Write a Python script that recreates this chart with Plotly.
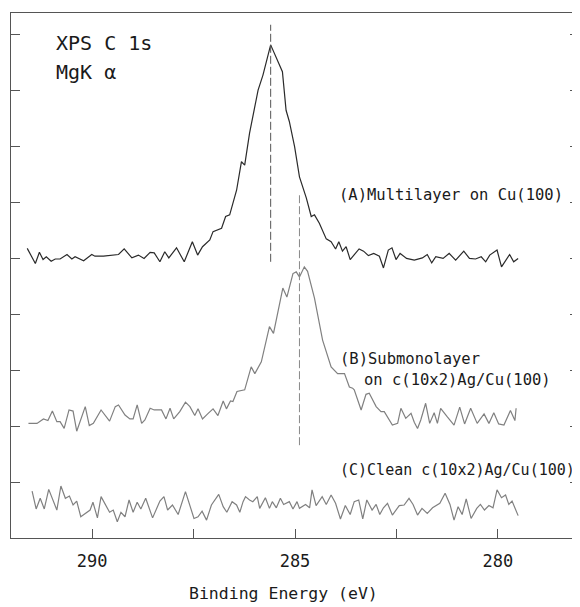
import plotly.graph_objects as go

# ---- Data (binding energy in eV, intensity in tick units) ----
ENERGY_A = [291.60, 291.40, 291.30, 291.21, 291.13, 291.01, 290.91, 290.79, 290.62, 290.50,
            290.42, 290.21, 290.01, 289.93, 289.72, 289.35, 289.21, 289.02, 288.86, 288.72,
            288.57, 288.47, 288.33, 288.21, 288.11, 287.92, 287.73, 287.53, 287.40, 287.28,
            287.10, 287.02, 286.81, 286.71, 286.61, 286.53, 286.44, 286.32, 286.24, 286.12,
            285.91, 285.79, 285.60, 285.31, 285.22, 285.14, 285.01, 284.89, 284.72, 284.60,
            284.52, 284.40, 284.23, 284.11, 284.00, 283.92, 283.83, 283.74, 283.64, 283.42,
            283.31, 283.19, 283.06, 282.92, 282.82, 282.70, 282.61, 282.51, 282.41, 282.25,
            282.06, 281.86, 281.74, 281.63, 281.53, 281.35, 281.20, 281.04, 280.84, 280.70,
            280.55, 280.41, 280.30, 280.20, 280.02, 279.91, 279.71, 279.61, 279.50]
INTENSITY_A = [4.18, 3.91, 4.11, 3.98, 4.03, 3.95, 3.99, 3.99, 4.07, 3.99,
               4.03, 3.96, 4.07, 4.04, 4.04, 4.07, 4.17, 4.01, 4.06, 4.00,
               4.11, 4.10, 3.94, 4.12, 4.01, 4.19, 3.94, 4.30, 4.06, 4.21,
               4.33, 4.48, 4.54, 4.75, 4.78, 5.01, 5.22, 5.73, 5.67, 6.24,
               7.01, 7.28, 7.82, 7.34, 6.65, 6.45, 6.00, 5.46, 5.08, 4.75,
               4.78, 4.63, 4.35, 4.30, 4.17, 4.30, 4.13, 4.21, 3.98, 4.17,
               4.13, 4.05, 4.09, 4.04, 3.83, 4.15, 4.19, 3.98, 4.09, 4.00,
               3.97, 4.01, 4.07, 3.92, 4.03, 4.00, 4.09, 3.97, 4.13, 4.00,
               3.99, 4.03, 3.94, 4.06, 4.15, 3.85, 4.07, 3.94, 4.00]

ENERGY_B = [291.57, 291.36, 291.20, 291.09, 290.98, 290.87, 290.79, 290.69, 290.57, 290.47,
            290.38, 290.17, 290.07, 289.97, 289.78, 289.57, 289.43, 289.35, 289.19, 289.07,
            288.99, 288.89, 288.78, 288.70, 288.57, 288.47, 288.29, 288.18, 288.08, 287.99,
            287.84, 287.70, 287.59, 287.47, 287.39, 287.28, 287.14, 287.02, 286.90, 286.77,
            286.69, 286.59, 286.53, 286.43, 286.24, 286.08, 285.99, 285.83, 285.63, 285.53,
            285.30, 285.20, 285.05, 284.97, 284.89, 284.77, 284.69, 284.52, 284.32, 284.11,
            283.95, 283.78, 283.66, 283.58, 283.54, 283.37, 283.25, 283.17, 283.00, 282.88,
            282.80, 282.60, 282.47, 282.39, 282.27, 282.14, 282.06, 281.98, 281.90, 281.78,
            281.68, 281.57, 281.49, 281.41, 281.25, 281.08, 280.94, 280.82, 280.67, 280.51,
            280.34, 280.22, 280.10, 279.98, 279.85, 279.69, 279.58, 279.55]
INTENSITY_B = [1.05, 1.05, 1.13, 1.10, 1.27, 1.08, 1.08, 0.96, 1.29, 1.27,
               0.91, 1.35, 1.01, 1.05, 1.29, 1.09, 1.35, 1.38, 1.20, 1.13,
               1.13, 1.38, 1.05, 1.11, 1.32, 1.29, 1.29, 1.13, 1.32, 1.13,
               1.26, 1.43, 1.35, 1.19, 1.31, 1.13, 1.23, 1.31, 1.19, 1.45,
               1.31, 1.45, 1.44, 1.62, 1.65, 2.06, 1.94, 2.15, 2.78, 2.66,
               3.47, 3.31, 3.73, 3.76, 3.67, 3.85, 3.77, 3.29, 2.54, 2.06,
               1.94, 1.94, 1.70, 1.68, 1.65, 1.29, 1.57, 1.59, 1.35, 1.26,
               1.26, 1.02, 1.05, 1.32, 1.14, 1.23, 1.07, 0.96, 1.11, 1.41,
               1.05, 1.24, 1.05, 1.32, 1.17, 1.02, 1.34, 1.04, 1.32, 1.05,
               1.22, 1.05, 1.24, 1.04, 1.02, 1.28, 1.10, 1.32]

ENERGY_C = [291.48, 291.38, 291.28, 291.18, 291.07, 290.87, 290.77, 290.66, 290.56, 290.47,
            290.38, 290.28, 290.05, 289.98, 289.87, 289.78, 289.57, 289.48, 289.38, 289.29,
            289.19, 289.09, 288.99, 288.89, 288.80, 288.68, 288.51, 288.33, 288.23, 288.14,
            288.02, 287.88, 287.70, 287.49, 287.39, 287.29, 287.18, 287.06, 286.88, 286.77,
            286.68, 286.55, 286.44, 286.36, 286.28, 286.22, 286.12, 286.04, 285.93, 285.87,
            285.73, 285.63, 285.56, 285.46, 285.36, 285.28, 285.14, 285.05, 284.95, 284.89,
            284.74, 284.64, 284.58, 284.48, 284.33, 284.23, 284.11, 284.00, 283.88, 283.76,
            283.64, 283.54, 283.43, 283.33, 283.23, 283.10, 283.00, 282.91, 282.82, 282.72,
            282.60, 282.43, 282.31, 282.19, 282.09, 281.98, 281.87, 281.74, 281.61, 281.43,
            281.30, 281.18, 281.08, 280.98, 280.88, 280.78, 280.66, 280.52, 280.43, 280.33,
            280.22, 280.12, 280.02, 279.91, 279.81, 279.73, 279.65, 279.55, 279.50]
INTENSITY_C = [-0.16, -0.48, -0.29, -0.48, -0.13, -0.50, -0.07, -0.29, -0.25, -0.41,
               -0.34, -0.62, -0.50, -0.36, -0.64, -0.26, -0.54, -0.50, -0.71, -0.54,
               -0.62, -0.32, -0.54, -0.36, -0.48, -0.29, -0.64, -0.34, -0.26, -0.50,
               -0.41, -0.58, -0.17, -0.65, -0.62, -0.52, -0.68, -0.41, -0.22, -0.44,
               -0.54, -0.35, -0.41, -0.54, -0.35, -0.26, -0.32, -0.35, -0.26, -0.47,
               -0.28, -0.47, -0.35, -0.46, -0.29, -0.40, -0.35, -0.48, -0.35, -0.47,
               -0.40, -0.46, -0.14, -0.42, -0.26, -0.40, -0.23, -0.38, -0.66, -0.42,
               -0.58, -0.35, -0.32, -0.66, -0.32, -0.50, -0.40, -0.58, -0.46, -0.38,
               -0.59, -0.42, -0.41, -0.29, -0.40, -0.59, -0.47, -0.56, -0.46, -0.38,
               -0.20, -0.40, -0.68, -0.44, -0.58, -0.30, -0.65, -0.47, -0.40, -0.50,
               -0.42, -0.46, -0.14, -0.28, -0.23, -0.40, -0.34, -0.52, -0.60]

# peak marker lines (energy, lower and upper intensity)
PEAK_A = [285.60, 3.94, 8.18]
PEAK_B = [284.89, 0.66, 5.13]

X_TICKS = [290, 287.5, 285, 282.5, 280]
X_TICK_TEXT = ["290", "", "285", "", "280"]
Y_TICKS = [0, 1, 2, 3, 4, 5, 6, 7, 8]
X_TITLE = "Binding Energy (eV)"

MONO = "DejaVu Sans Mono"
DARK = "#2a2a2a"
GRAY = "#808080"
AXC = "#555555"

fig = go.Figure()
fig.add_trace(go.Scatter(x=ENERGY_A, y=INTENSITY_A, mode="lines",
                         line=dict(color=DARK, width=1.2)))
fig.add_trace(go.Scatter(x=ENERGY_B, y=INTENSITY_B, mode="lines",
                         line=dict(color=GRAY, width=1.2)))
fig.add_trace(go.Scatter(x=ENERGY_C, y=INTENSITY_C, mode="lines",
                         line=dict(color=GRAY, width=1.2)))
fig.add_trace(go.Scatter(x=[PEAK_A[0], PEAK_A[0]], y=[PEAK_A[1], PEAK_A[2]], mode="lines",
                         line=dict(color="#555555", width=1, dash="8px,3px")))
fig.add_trace(go.Scatter(x=[PEAK_B[0], PEAK_B[0]], y=[PEAK_B[1], PEAK_B[2]], mode="lines",
                         line=dict(color="#888888", width=1, dash="8px,3px")))

def label(text, x, y, size):
    fig.add_annotation(text=text, x=x, y=y, xref="x", yref="y", xanchor="left",
                       yanchor="middle", showarrow=False, borderpad=0,
                       font=dict(family=MONO, size=size, color="#1a1a1a"))

label("XPS C 1s", 290.91, 7.85, 20)
label("MgK α", 290.91, 7.33, 20)
label("(A)Multilayer on Cu(100)", 283.95, 5.13, 15.5)
label("(B)Submonolayer", 283.92, 2.21, 15.5)
label("on c(10x2)Ag/Cu(100)", 283.32, 1.82, 15.5)
label("(C)Clean c(10x2)Ag/Cu(100)", 283.92, 0.21, 15)

# x-axis title, placed slightly left of the plot centre as in the reference
fig.add_annotation(text=X_TITLE, xref="paper", yref="paper", x=0.479, y=-0.105,
                   xanchor="center", yanchor="middle", showarrow=False,
                   font=dict(family=MONO, size=16.5, color="#1a1a1a"))

# the page body has an 8px default margin, so the figure is sized 8px smaller
fig.update_layout(
    width=572, height=599,
    margin=dict(l=3, r=1, t=5, b=69),
    paper_bgcolor="white", plot_bgcolor="white",
    showlegend=False,
    xaxis=dict(range=[292, 278], tickvals=X_TICKS, ticktext=X_TICK_TEXT,
               ticks="inside", ticklen=9, tickcolor=AXC, tickwidth=1,
               showline=True, linecolor=AXC, linewidth=1, mirror=True,
               showgrid=False, zeroline=False, ticklabelstandoff=8,
               tickfont=dict(family=MONO, size=17, color="#1a1a1a")),
    yaxis=dict(range=[-1, 8.39], tickvals=Y_TICKS, showticklabels=False,
               ticks="inside", ticklen=9, tickcolor=AXC, tickwidth=1,
               showline=True, linecolor=AXC, linewidth=1, mirror="ticks",
               showgrid=False, zeroline=False),
)

fig.write_html("out.html")
